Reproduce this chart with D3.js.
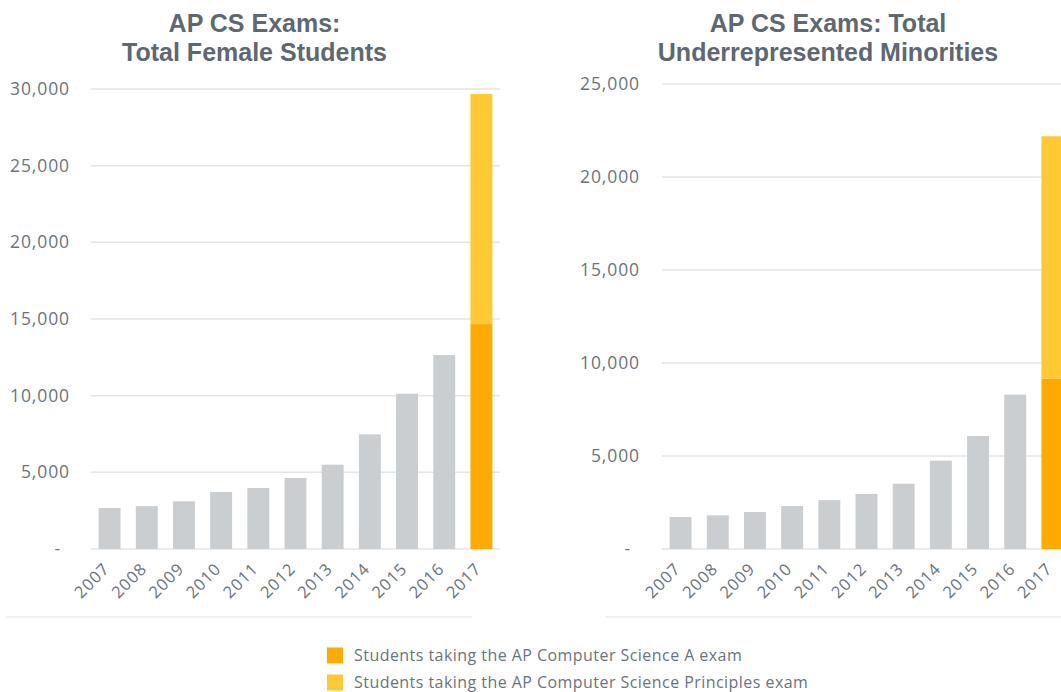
<!DOCTYPE html>
<html><head><meta charset="utf-8">
<script src="https://cdn.jsdelivr.net/npm/d3@7"></script>
<style>
html,body{margin:0;padding:0;background:#fff;}
svg{display:block;}
text{font-family:"Open Sans","Noto Sans",sans-serif;}
</style></head>
<body>
<svg id="chart" width="1061" height="692"></svg>
<script>
// ---- data ----
const years = ["2007","2008","2009","2010","2011","2012","2013","2014","2015","2016","2017"];
const femaleCSA = [2670, 2800, 3110, 3720, 3980, 4630, 5500, 7480, 10130, 12650, 14670];
const femaleCSP = [0, 0, 0, 0, 0, 0, 0, 0, 0, 0, 15000];
const urmCSA = [1720, 1810, 1990, 2310, 2630, 2960, 3510, 4750, 6075, 8300, 9160];
const urmCSP = [0, 0, 0, 0, 0, 0, 0, 0, 0, 0, 13030];
const femaleTicks = [0, 5000, 10000, 15000, 20000, 25000, 30000];
const urmTicks = [0, 5000, 10000, 15000, 20000, 25000];
const femaleTitle = ["AP CS Exams:", "Total Female Students"];
const urmTitle = ["AP CS Exams: Total", "Underrepresented Minorities"];
const legendLabels = ["Students taking the AP Computer Science A exam",
                      "Students taking the AP Computer Science Principles exam"];
const highlightYear = "2017";

// ---- styles ----
const C_GREY = "#cbced1", C_A = "#ffaa00", C_P = "#ffc933";
const C_TEXT = "#6b747c", C_TITLE = "#5d6872", C_GRID = "#e4e5e7";

const svg = d3.select("#chart");

function panel(cfg){
  const g = svg.append("g");
  const x = d3.scaleBand().domain(years).range(cfg.xr).paddingInner(0.41).paddingOuter(0.205);
  const y = d3.scaleLinear().domain([0, cfg.max]).range([549, cfg.top]);

  // gridlines
  g.append("g").selectAll("line").data(cfg.ticks).join("line")
    .attr("x1", cfg.xr[0]).attr("x2", cfg.xr[1])
    .attr("y1", d => y(d)).attr("y2", d => y(d))
    .attr("stroke", C_GRID).attr("stroke-width", 1.5);

  // y axis labels
  const ax = g.append("g").attr("transform", `translate(${cfg.labelX},0)`)
    .call(d3.axisLeft(y).tickValues(cfg.ticks).tickSize(0).tickPadding(0)
      .tickFormat(d => d === 0 ? "-" : d3.format(",")(d)));
  ax.select(".domain").remove();
  ax.selectAll("text").attr("fill", C_TEXT).attr("font-size", 17.5)
    .attr("letter-spacing", 0.9)
    .attr("dx", d => d === 0 ? -9 : 0);

  // stacked bars
  const rows = years.map((yr, i) => ({year: yr, A: cfg.a[i], P: cfg.p[i]}));
  const stack = d3.stack().keys(["A", "P"])(rows);
  g.append("g").selectAll("g").data(stack).join("g")
    .selectAll("rect").data(s => s.map(d => ({key: s.key, d})))
    .join("rect")
    .attr("x", o => x(o.d.data.year))
    .attr("width", x.bandwidth())
    .attr("y", o => y(o.d[1]))
    .attr("height", o => y(o.d[0]) - y(o.d[1]))
    .attr("fill", o => o.key === "P" ? C_P : (o.d.data.year === highlightYear ? C_A : C_GREY));

  // x labels
  g.append("g").selectAll("text").data(years).join("text")
    .attr("transform", d => `translate(${x(d) + x.bandwidth()/2 + 1},570) rotate(-45)`)
    .attr("text-anchor", "end")
    .attr("font-size", 16.5).attr("letter-spacing", 0.9)
    .attr("fill", C_TEXT).text(d => d);

  // title (one text per line)
  g.append("g").selectAll("text").data(cfg.title).join("text")
    .attr("x", cfg.titleX).attr("y", (d, i) => 32 + i * 29)
    .attr("text-anchor", "middle")
    .style("font-family", '"Liberation Sans", Arial, sans-serif')
    .attr("font-weight", 700).attr("font-size", 25).attr("fill", C_TITLE)
    .text(d => d);

  // bottom separator
  g.append("line").attr("x1", cfg.sep[0]).attr("x2", cfg.sep[1])
    .attr("y1", 617).attr("y2", 617).attr("stroke", "#f1f1f2").attr("stroke-width", 2);
}

panel({xr:[91, 500], max:30000, top:89, ticks:femaleTicks, a:femaleCSA, p:femaleCSP,
       labelX:70, title:femaleTitle, titleX:254.5, sep:[6, 472]});
panel({xr:[662, 1071], max:25000, top:84, ticks:urmTicks, a:urmCSA, p:urmCSP,
       labelX:640, title:urmTitle, titleX:828, sep:[605, 1061]});

// legend
const lg = svg.append("g");
const lcol = [C_A, C_P];
legendLabels.forEach((lab, i) => {
  lg.append("rect").attr("x", 327).attr("y", 647.5 + i * 27).attr("width", 16).attr("height", 16).attr("fill", lcol[i]);
  lg.append("text").attr("x", 354).attr("y", 661 + i * 27).attr("font-size", 16)
    .attr("letter-spacing", 0.45).attr("fill", C_TEXT).text(lab);
});
</script>
</body></html>
